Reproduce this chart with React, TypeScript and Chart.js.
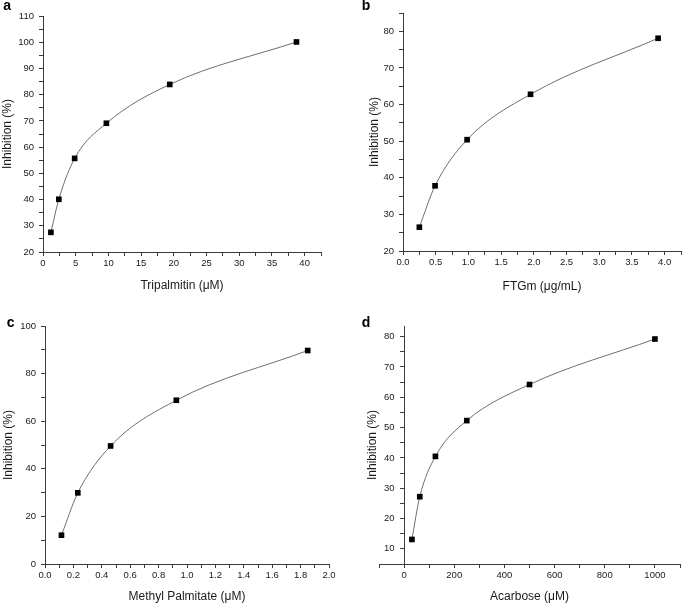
import React, { useEffect, useRef } from 'react';
import { Chart, registerables } from 'chart.js';

Chart.register(...registerables);

const FONT = "'Liberation Sans', Arial, Helvetica, sans-serif";

// ---- Data ----
// a: Tripalmitin (µM)
const tripalmitinConc = [1.21, 2.42, 4.84, 9.69, 19.38, 38.75];
const tripalmitinInhib = [27.5, 40.1, 55.7, 69.1, 83.9, 100.1];
// b: FTGm (µg/mL)
const ftgmConc = [0.25, 0.49, 0.98, 1.95, 3.9];
const ftgmInhib = [26.5, 37.8, 50.4, 62.8, 78.1];
// c: Methyl Palmitate (µM)
const methylPalmitateConc = [0.116, 0.231, 0.462, 0.925, 1.85];
const methylPalmitateInhib = [12.1, 29.9, 49.6, 68.8, 89.7];
// d: Acarbose (µM)
const acarboseConc = [31.25, 62.5, 125, 250, 500, 1000];
const acarboseInhib = [13.1, 27.2, 40.5, 52.3, 64.2, 79.2];

// ---- Axis titles ----
const yTitle = 'Inhibition (%)';
const xTitles = ['Tripalmitin (\u03BCM)', 'FTGm (\u03BCg/mL)', 'Methyl Palmitate (\u03BCM)', 'Acarbose (\u03BCM)'];
const letters = ['a', 'b', 'c', 'd'];

// ---- Axis ranges: [min, max, minorStep, labelEvery, decimals] ----
const xAxisA = [0, 42.5, 2.5, 5, 0];
const yAxisA = [20, 110, 5, 10, 0];
const xAxisB = [0, 4.25, 0.25, 0.5, 1];
const yAxisB = [20, 85, 5, 10, 0];
const xAxisC = [0, 2.0, 0.1, 0.2, 1];
const yAxisC = [0, 100, 10, 20, 0];
const xAxisD = [-100, 1100, 100, 200, 0];
const yAxisD = [5, 83.5, 5, 10, 0];

type Spec = {
  letter: string;
  xs: number[];
  ys: number[];
  xTitle: string;
  xAxis: number[];
  yAxis: number[];
  yAtZero: boolean;
  box: { left: number; top: number; width: number; height: number };
  pad: { top: number; right: number; bottom: number; left: number };
  yAxisW: number;
  xAxisH: number;
  xTitlePad: number;
  letterPos: [number, number];
};

const PANELS: Spec[] = [
  {
    letter: letters[0], xs: tripalmitinConc, ys: tripalmitinInhib, xTitle: xTitles[0],
    xAxis: xAxisA, yAxis: yAxisA, yAtZero: false,
    box: { left: 0, top: 0, width: 340, height: 300 },
    pad: { top: 16, right: 19, bottom: 0, left: 0 },
    yAxisW: 43, xAxisH: 48, xTitlePad: 7.3, letterPos: [3.3, 10],
  },
  {
    letter: letters[1], xs: ftgmConc, ys: ftgmInhib, xTitle: xTitles[1],
    xAxis: xAxisB, yAxis: yAxisB, yAtZero: false,
    box: { left: 340, top: 0, width: 345, height: 300 },
    pad: { top: 13, right: 1, bottom: 0, left: 27 },
    yAxisW: 36, xAxisH: 49, xTitlePad: 6.3, letterPos: [21.7, 10],
  },
  {
    letter: letters[2], xs: methylPalmitateConc, ys: methylPalmitateInhib, xTitle: xTitles[2],
    xAxis: xAxisC, yAxis: yAxisC, yAtZero: false,
    box: { left: 0, top: 300, width: 340, height: 305 },
    pad: { top: 26, right: 11, bottom: 0, left: 1 },
    yAxisW: 44, xAxisH: 41, xTitlePad: 0.8, letterPos: [6.7, 26.7],
  },
  {
    letter: letters[3], xs: acarboseConc, ys: acarboseInhib, xTitle: xTitles[3],
    xAxis: xAxisD, yAxis: yAxisD, yAtZero: true,
    box: { left: 340, top: 300, width: 345, height: 305 },
    pad: { top: 26, right: 5, bottom: 0, left: 25 },
    yAxisW: 14, xAxisH: 41, xTitlePad: 0.8, letterPos: [21.7, 26.7],
  },
];

// label formatter: only every `every` units gets text; minor ticks stay blank.
// `gap` appends spacing for axes placed at x = 0 (Chart.js draws those labels flush with the axis).
const labeler = (every: number, decimals: number, gap = '') => (v: any) => {
  const n = Number(v);
  const r = n / every;
  if (Math.abs(r - Math.round(r)) > 1e-6) return '';
  return n.toFixed(decimals) + gap;
};

const panelLetter = {
  id: 'panelLetter',
  afterDraw(chart: any, _args: any, opts: any) {
    const ctx = chart.ctx;
    ctx.save();
    ctx.font = `bold 14px ${FONT}`;
    ctx.fillStyle = '#000';
    ctx.textAlign = 'left';
    ctx.textBaseline = 'alphabetic';
    ctx.fillText(opts.text, opts.x, opts.y);
    ctx.restore();
  },
};

function Panel({ spec }: { spec: Spec }) {
  const ref = useRef<HTMLCanvasElement>(null);
  useEffect(() => {
    if (!ref.current) return;
    const s = spec;
    const axisColor = '#3c3c3c';
    const textColor = '#1a1a1a';
    const tickFont = { family: FONT, size: 9.5 };
    const titleFont = { family: FONT, size: 12 };
    const grid = {
      display: true, drawOnChartArea: false, drawTicks: true,
      tickLength: 4, tickColor: axisColor, tickWidth: 1,
    };
    const border = { display: true, color: axisColor, width: 1 };
    const [xmin, xmax, xstep, xevery, xdec] = s.xAxis;
    const [ymin, ymax, ystep, yevery, ydec] = s.yAxis;

    const scales: any = {
      x: {
        type: 'linear', position: 'bottom', min: xmin, max: xmax,
        grid, border,
        ticks: {
          stepSize: xstep, autoSkip: false, maxRotation: 0, minRotation: 0,
          includeBounds: false, padding: 2, font: tickFont, color: textColor,
          callback: labeler(xevery, xdec),
        },
        title: {
          display: true, text: s.xTitle, font: titleFont, color: textColor,
          padding: { top: 0, bottom: s.xTitlePad },
        },
        afterFit: (sc: any) => { sc.height = s.xAxisH; },
      },
      y: {
        type: 'linear', position: s.yAtZero ? { x: 0 } : 'left', min: ymin, max: ymax,
        grid, border,
        ticks: {
          stepSize: ystep, autoSkip: false, includeBounds: false, padding: 5,
          font: tickFont, color: textColor,
          callback: labeler(yevery, ydec, s.yAtZero ? '\u2002\u2002' : ''),
        },
        title: s.yAtZero
          ? { display: false }
          : { display: true, text: yTitle, font: titleFont, color: textColor, padding: { top: 0, bottom: 0 } },
        afterFit: (sc: any) => { if (!s.yAtZero) sc.width = s.yAxisW; },
      },
    };
    if (s.yAtZero) {
      scales.yt = {
        type: 'linear', position: 'left', display: true,
        grid: { display: false }, border: { display: false },
        ticks: { display: false },
        title: { display: true, text: yTitle, font: titleFont, color: textColor, padding: { top: 0, bottom: 0 } },
        afterFit: (sc: any) => { sc.width = s.yAxisW; },
      };
    }

    const chart = new Chart(ref.current, {
      type: 'scatter',
      data: {
        datasets: [
          {
            data: s.xs.map((x, i) => ({ x, y: s.ys[i] })),
            showLine: true,
            cubicInterpolationMode: 'monotone',
            borderColor: '#6e6e6e',
            borderWidth: 1,
            fill: false,
            pointStyle: 'rect',
            pointRadius: 4,
            pointBackgroundColor: '#000',
            pointBorderColor: '#000',
            pointBorderWidth: 0,
          } as any,
        ],
      },
      options: {
        responsive: false,
        maintainAspectRatio: false,
        animation: false,
        events: [],
        layout: { padding: s.pad },
        plugins: {
          legend: { display: false },
          tooltip: { enabled: false },
          panelLetter: { text: s.letter, x: s.letterPos[0], y: s.letterPos[1] },
        } as any,
        scales,
      },
      plugins: [panelLetter as any],
    });
    return () => chart.destroy();
  }, [spec]);

  const { left, top, width, height } = spec.box;
  return (
    <canvas
      ref={ref}
      width={width}
      height={height}
      style={{ position: 'absolute', left, top, width, height }}
    />
  );
}

export default function App() {
  useEffect(() => {
    Chart.defaults.font.family = FONT;
  }, []);
  return (
    <div
      style={{
        position: 'absolute', left: 0, top: 0, width: 685, height: 605,
        background: '#fff', overflow: 'hidden',
      }}
    >
      {PANELS.map((p) => (
        <Panel key={p.letter} spec={p} />
      ))}
    </div>
  );
}
